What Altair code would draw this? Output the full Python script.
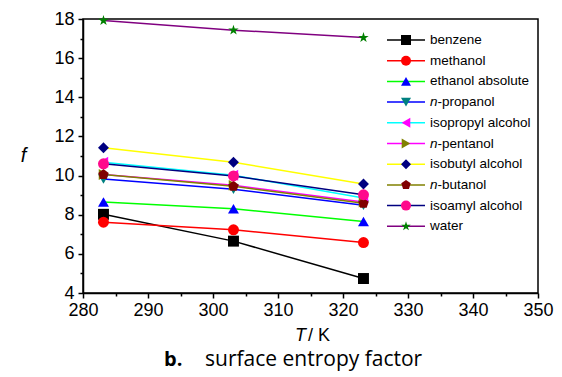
import altair as alt
import pandas as pd

temps = [283.15, 303.15, 323.15]
names = ["benzene", "methanol", "ethanol absolute", "n-propanol", "isopropyl alcohol",
         "n-pentanol", "isobutyl alcohol", "n-butanol", "isoamyl alcohol", "water"]
benzene = [8.02, 6.65, 4.74]
methanol = [7.62, 7.23, 6.58]
ethanol_absolute = [8.65, 8.30, 7.65]
n_propanol = [9.82, 9.30, 8.48]
isopropyl_alcohol = [10.68, 10.02, 8.85]
n_pentanol = [10.05, 9.50, 8.65]
isobutyl_alcohol = [11.42, 10.68, 9.57]
n_butanol = [10.05, 9.45, 8.58]
isoamyl_alcohol = [10.60, 9.98, 9.02]
water = [17.92, 17.43, 17.05]
series = [benzene, methanol, ethanol_absolute, n_propanol, isopropyl_alcohol,
          n_pentanol, isobutyl_alcohol, n_butanol, isoamyl_alcohol, water]

x_ticks = [280, 290, 300, 310, 320, 330, 340, 350]
x_minor = [285, 295, 305, 315, 325, 335, 345]
y_ticks = [4, 6, 8, 10, 12, 14, 16, 18]
y_minor = [5, 7, 9, 11, 13, 15, 17]

# styles
line_colors = ["#000000", "#FF0000", "#00FF00", "#0000FF", "#00FFFF",
               "#FF00FF", "#FFFF00", "#808000", "#000080", "#800080"]
marker_colors = ["#000000", "#FF0000", "#0000FF", "#008080", "#FF00FF",
                 "#808000", "#000080", "#800000", "#FF0A8C", "#008000"]
PENTAGON = "M0,-1L0.951,-0.309L0.588,0.809L-0.588,0.809L-0.951,-0.309Z"
STAR = ("M0,-1L0.2245,-0.309L0.951,-0.309L0.363,0.118L0.588,0.809L0,0.382"
        "L-0.588,0.809L-0.363,0.118L-0.951,-0.309L-0.2245,-0.309Z")
shapes = ["square", "circle", "triangle-up", "triangle-down", "triangle-left",
          "triangle-right", "diamond", PENTAGON, "circle", STAR]

rows = []
for i, (n, vals) in enumerate(zip(names, series)):
    for t, v in zip(temps, vals):
        rows.append({"name": n, "T": t, "f": v, "order": i})
df = pd.DataFrame(rows)

W, H = 455, 274
Y0, Y1 = 4, 18
# legend table (rows placed in plot area, converted to data units of f)
leg = []
for i, n in enumerate(names):
    rel_y = 21 + 20.7 * i
    pre = "n" if n.startswith("n-") else ""
    leg.append({"name": n, "ly": Y1 - rel_y * (Y1 - Y0) / H, "pre": pre,
                "rest": n[1:] if pre else n, "order": i})
legdf = pd.DataFrame(leg)

FONT = "Liberation Sans"
CAPFONT = "Open Sans"
xs = alt.Scale(domain=[280, 350], nice=False, zero=False)
ys = alt.Scale(domain=[Y0, Y1], nice=False, zero=False)
stroke_s = alt.Scale(domain=names, range=line_colors)
fill_s = alt.Scale(domain=names, range=marker_colors)
shape_s = alt.Scale(domain=names, range=shapes)

major_x = alt.Axis(values=x_ticks, orient="bottom", title=None, grid=False, tickSize=5,
                   labelFontSize=18, labelFont=FONT, labelColor="black", tickColor="black",
                   domainColor="black", domainWidth=1.5, tickWidth=1.5, labelPadding=3,
                   labelFlush=False)
major_y = alt.Axis(values=y_ticks, orient="left", grid=False, tickSize=5,
                   labelFontSize=18, labelFont=FONT, labelColor="black", tickColor="black",
                   domainColor="black", domainWidth=1.5, tickWidth=1.5, labelPadding=4,
                   title="f", titleAngle=0, titleFontStyle="italic", titleFont=FONT,
                   titleFontSize=20, titleFontWeight="normal", titleX=-60, titleY=136,
                   titleAlign="center", titleBaseline="middle", labelFlush=False)
minor_x = alt.Axis(values=x_minor, orient="bottom", title=None, grid=False, labels=False,
                   domain=False, tickSize=3, tickWidth=1.5, tickColor="black")
minor_y = alt.Axis(values=y_minor, orient="left", title=None, grid=False, labels=False,
                   domain=False, tickSize=3, tickWidth=1.5, tickColor="black")

lines = alt.Chart(df).mark_line(strokeWidth=1.5).encode(
    x=alt.X("T:Q", scale=xs, axis=major_x),
    y=alt.Y("f:Q", scale=ys, axis=major_y),
    stroke=alt.Stroke("name:N", scale=stroke_s, legend=None),
    detail="name:N",
    order="T:Q",
)

markers = alt.Chart(df).mark_point(filled=True, opacity=1, size=120, strokeWidth=0).encode(
    x=alt.X("T:Q", scale=xs, axis=minor_x),
    y=alt.Y("f:Q", scale=ys, axis=minor_y),
    fill=alt.Fill("name:N", scale=fill_s, legend=None),
    shape=alt.Shape("name:N", scale=shape_s, legend=None),
    order="order:Q",
)

leg_base = alt.Chart(legdf)
leg_y = alt.Y("ly:Q", scale=ys, axis=None)
leg_lines = leg_base.mark_rule(strokeWidth=1.5).encode(
    x=alt.value(304), x2=alt.value(342), y=leg_y,
    stroke=alt.Stroke("name:N", scale=stroke_s, legend=None),
)
leg_marks = leg_base.mark_point(filled=True, opacity=1, size=100, strokeWidth=0).encode(
    x=alt.value(323), y=leg_y,
    fill=alt.Fill("name:N", scale=fill_s, legend=None),
    shape=alt.Shape("name:N", scale=shape_s, legend=None),
)
LFS = 13.5
leg_pre = leg_base.transform_filter("datum.pre != ''").mark_text(
    align="left", baseline="middle", fontSize=LFS, font=FONT, fontStyle="italic", color="black"
).encode(x=alt.value(347), y=leg_y, text="pre:N")
leg_rest_plain = leg_base.transform_filter("datum.pre == ''").mark_text(
    align="left", baseline="middle", fontSize=LFS, font=FONT, color="black"
).encode(x=alt.value(347), y=leg_y, text="rest:N")
leg_rest_n = leg_base.transform_filter("datum.pre != ''").mark_text(
    align="left", baseline="middle", fontSize=LFS, font=FONT, color="black"
).encode(x=alt.value(354.5), y=leg_y, text="rest:N")

txt = pd.DataFrame({"a": [0]})
t_italic = alt.Chart(txt).mark_text(align="right", baseline="middle", fontSize=18, font=FONT,
                                    fontStyle="italic", color="black").encode(
    x=alt.value(223), y=alt.value(317), text=alt.value("T"))
t_rest = alt.Chart(txt).mark_text(align="left", baseline="middle", fontSize=18, font=FONT,
                                  color="black").encode(
    x=alt.value(225), y=alt.value(317), text=alt.value("/ K"))
cap_b = alt.Chart(txt).mark_text(align="left", baseline="middle", fontSize=20, font=CAPFONT,
                                 fontWeight="bold", color="black").encode(
    x=alt.value(81), y=alt.value(341), text=alt.value("b."))
cap_rest = alt.Chart(txt).mark_text(align="left", baseline="middle", fontSize=21, font=CAPFONT,
                                    color="black").encode(
    x=alt.value(122), y=alt.value(341), text=alt.value("surface entropy factor"))

chart = alt.layer(
    lines, markers, leg_lines, leg_marks, leg_pre, leg_rest_plain, leg_rest_n,
    t_italic, t_rest, cap_b, cap_rest
).resolve_axis(x="independent", y="independent").properties(
    width=W, height=H,
    autosize=alt.AutoSizeParams(type="none"),
    padding={"left": 83, "top": 19, "right": 24, "bottom": 84},
    background="white",
).configure_view(stroke="black", strokeWidth=1.5)

chart.save("out.html", embed_options={"renderer": "svg", "actions": False})
